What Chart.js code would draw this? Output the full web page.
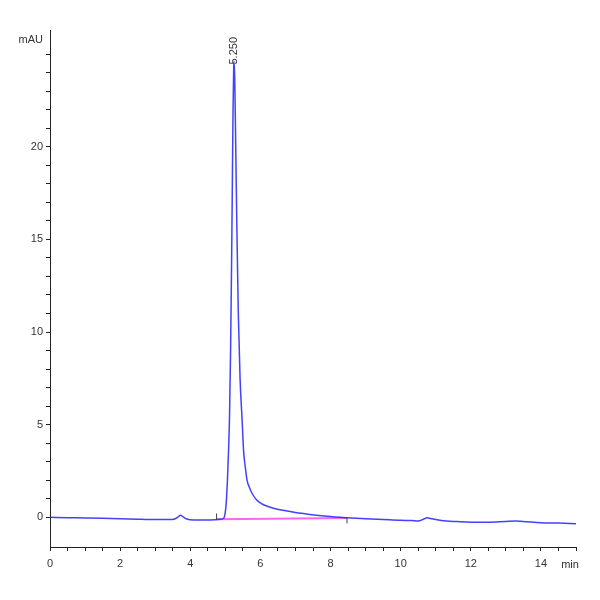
<!DOCTYPE html>
<html>
<head>
<meta charset="utf-8">
<script src="https://cdn.jsdelivr.net/npm/chart.js@4"></script>
<style>
  html, body { margin: 0; padding: 0; background: #fff; }
  #box { width: 600px; height: 600px; }
</style>
</head>
<body>
<div id="box"><canvas id="chart" width="600" height="600"></canvas></div>
<script>
// retention time (min) and detector signal (mAU)
const times = [0, 0.5, 1, 1.5, 2, 2.5, 2.8, 3, 3.4, 3.55, 3.65, 3.72, 3.8, 3.9, 4.1, 4.4, 4.7, 4.85, 4.95,
  5.0, 5.03, 5.06, 5.09, 5.12, 5.15, 5.18, 5.2, 5.22, 5.24, 5.25, 5.27, 5.3, 5.33, 5.37, 5.42, 5.48,
  5.52, 5.57, 5.62, 5.69, 5.76, 5.9, 6.05, 6.2, 6.4, 6.65, 7.0, 7.4, 7.9, 8.47, 9.0, 9.5, 10.0, 10.3, 10.5, 10.65,
  10.75, 10.85, 11.0, 11.3, 11.6, 12.0, 12.5, 13.0, 13.3, 13.6, 14.0, 14.5, 15.0];
const signal = [0.0, -0.02, -0.03, -0.05, -0.08, -0.1, -0.12, -0.11, -0.12, -0.09, 0.02, 0.12, 0.02, -0.09, -0.14, -0.14, -0.13, -0.1, -0.05,
  0.3, 0.9, 2.0, 3.5, 5.5, 9, 14, 18, 22, 24.4, 24.6, 23.5, 19.5, 15.5, 11, 7.5, 5.2,
  3.6, 2.7, 2.0, 1.6, 1.3, 0.92, 0.72, 0.6, 0.48, 0.38, 0.26, 0.16, 0.06, -0.02, -0.08, -0.12, -0.16, -0.17, -0.2, -0.1,
  -0.02, -0.06, -0.12, -0.2, -0.23, -0.26, -0.26, -0.22, -0.2, -0.24, -0.29, -0.31, -0.34];

// integration baseline and its start/end marks
const baseTimes = [4.75, 8.47];
const baseValues = [-0.1, -0.04];
const markTimes = [4.75, 8.47];
const markValues = [0.05, -0.17];

const peakTime = 5.25;
const peakValue = 24.6;
const peakLabel = "5.250";

const xLabels = [0, 2, 4, 6, 8, 10, 12, 14];
const yLabels = [0, 5, 10, 15, 20];

const textColor = "#333";
const axisColor = "#222";
const font = { family: "'Liberation Sans', Arial, sans-serif", size: 11 };

const onGrid = (v, step) => Math.abs(v / step - Math.round(v / step)) < 1e-6;

const extraText = {
  id: "extraText",
  afterDatasetsDraw(chart) {
    const { ctx, scales } = chart;
    ctx.save();
    ctx.fillStyle = textColor;
    ctx.font = "11px " + font.family;

    // axis units
    ctx.textAlign = "right";
    ctx.textBaseline = "middle";
    ctx.fillText("mAU", 43, 40);
    ctx.textAlign = "center";
    ctx.fillText("min", 570, 565);

    // peak retention time
    const px = scales.x.getPixelForValue(peakTime);
    const py = scales.y.getPixelForValue(peakValue);
    ctx.translate(px, py + 3);
    ctx.rotate(-Math.PI / 2);
    ctx.textAlign = "left";
    ctx.fillText(peakLabel, 0, 0);
    ctx.restore();
  }
};

const ctx = document.getElementById("chart").getContext("2d");
new Chart(ctx, {
  type: "line",
  data: {
    datasets: [
      {
        data: times.map((t, i) => ({ x: t, y: signal[i] })),
        borderColor: "rgba(45, 45, 250, 0.9)",
        borderWidth: 1.5,
        pointRadius: 0,
        cubicInterpolationMode: "monotone",
        order: 1,
      },
      {
        data: baseTimes.map((t, i) => ({ x: t, y: baseValues[i] })),
        borderColor: "#ff66ee",
        borderWidth: 2,
        pointRadius: 0,
        order: 2,
      },
      {
        type: "scatter",
        data: markTimes.map((t, i) => ({ x: t, y: markValues[i] })),
        pointStyle: "line",
        rotation: 90,
        pointRadius: 3,
        borderColor: "#444",
        borderWidth: 1,
        order: 0,
      },
    ],
  },
  options: {
    responsive: false,
    animation: false,
    events: [],
    layout: { padding: { left: 0, top: 30, right: 24, bottom: 0 } },
    plugins: { legend: { display: false }, tooltip: { enabled: false } },
    scales: {
      x: {
        type: "linear",
        min: 0,
        max: 15,
        afterBuildTicks: (axis) => {
          axis.ticks = axis.ticks.filter(t => onGrid(t.value, 0.5));
        },
        afterFit: (axis) => { axis.height = 53; },
        ticks: {
          stepSize: 0.5,
          autoSkip: false,
          maxRotation: 0,
          padding: 6,
          color: textColor,
          font: font,
          callback: (v) => (xLabels.includes(v) ? String(v) : ""),
        },
        grid: { drawOnChartArea: false, drawTicks: true, tickLength: 4, tickColor: axisColor },
        border: { display: true, color: axisColor, width: 1 },
      },
      y: {
        type: "linear",
        min: -1.6,
        max: 26.3,
        afterBuildTicks: (axis) => {
          axis.ticks = axis.ticks.filter(t => onGrid(t.value, 1));
        },
        afterFit: (axis) => { axis.width = 50; },
        ticks: {
          stepSize: 1,
          autoSkip: false,
          padding: 3,
          color: textColor,
          font: font,
          callback: (v) => (yLabels.includes(v) ? String(v) : ""),
        },
        grid: { drawOnChartArea: false, drawTicks: true, tickLength: 4, tickColor: axisColor },
        border: { display: true, color: axisColor, width: 1 },
      },
    },
  },
  plugins: [extraText],
});
</script>
</body>
</html>
